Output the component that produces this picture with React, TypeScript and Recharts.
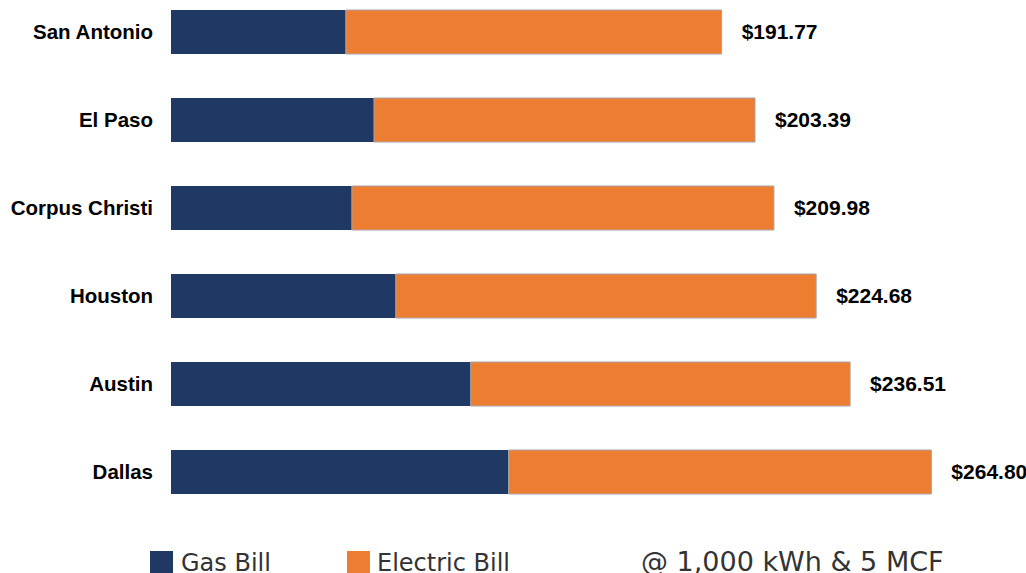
import React from 'react';
import { BarChart, Bar, XAxis, YAxis, Legend, LabelList } from 'recharts';

const cities = ['San Antonio', 'El Paso', 'Corpus Christi', 'Houston', 'Austin', 'Dallas'];
const totalBill = [191.77, 203.39, 209.98, 224.68, 236.51, 264.8];
const gasBill = [60.9, 70.7, 63.0, 78.3, 104.4, 117.6];

const data = cities.map((city, i) => ({
  city,
  gas: gasBill[i],
  electric: +(totalBill[i] - gasBill[i]).toFixed(2),
  total: totalBill[i],
}));

const NAVY = '#203864';
const ORANGE = '#ED7D31';

const LegendBox = () => (
  <div style={{ position: 'relative', width: 1026, height: 57, fontFamily: '"DejaVu Sans", Verdana, sans-serif', fontSize: 24, color: '#333' }}>
    <span style={{ position: 'absolute', left: 150, top: 35, width: 23, height: 23, background: NAVY }} />
    <span style={{ position: 'absolute', left: 181, top: 32, lineHeight: '30px', whiteSpace: 'nowrap' }}>Gas Bill</span>
    <span style={{ position: 'absolute', left: 347, top: 35, width: 23, height: 23, background: ORANGE }} />
    <span style={{ position: 'absolute', left: 377, top: 32, lineHeight: '30px', whiteSpace: 'nowrap' }}>Electric Bill</span>
    <span style={{ position: 'absolute', left: 641, top: 31, fontSize: 27, lineHeight: '30px', whiteSpace: 'nowrap' }}>@ 1,000 kWh &amp; 5 MCF</span>
  </div>
);

export default function App() {
  return (
    <div style={{ position: 'absolute', left: 0, top: -12, width: 1026, height: 585, background: '#fff' }}>
      <BarChart
        width={1026}
        height={585}
        data={data}
        layout="vertical"
        margin={{ top: 0, right: 51, bottom: 0, left: 0 }}
        barCategoryGap="25%"
      >
        <XAxis type="number" domain={[0, 280]} hide />
        <YAxis
          type="category"
          dataKey="city"
          width={171}
          axisLine={false}
          tickLine={false}
          tickSize={0}
          tickMargin={18}
          tick={{ fill: '#000', fontSize: 20.5, fontWeight: 'bold', fontFamily: '"Liberation Sans", Arial, sans-serif' }}
        />
        <Legend verticalAlign="bottom" content={<LegendBox />} />
        <Bar dataKey="gas" name="Gas Bill" stackId="a" fill={NAVY} isAnimationActive={false} />
        <Bar dataKey="electric" name="Electric Bill" stackId="a" fill={ORANGE} stroke="#a6a6a6" strokeWidth={1} isAnimationActive={false}>
          <LabelList
            dataKey="total"
            position="right"
            offset={20}
            formatter={(v: any) => `$${Number(v).toFixed(2)}`}
            style={{ fill: '#000', fontSize: 21, fontWeight: 'bold', fontFamily: '"Liberation Sans", Arial, sans-serif' }}
          />
        </Bar>
      </BarChart>
    </div>
  );
}
